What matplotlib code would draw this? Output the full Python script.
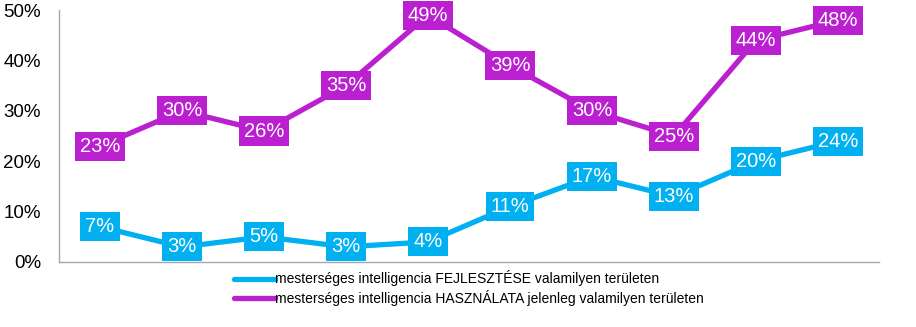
import numpy as np
import matplotlib.pyplot as plt

plt.rcParams['font.family'] = ['Liberation Sans', 'DejaVu Sans']

# values (percent)
fejlesztes = [7, 3, 5, 3, 4, 11, 17, 13, 20, 24]
hasznalat = [23, 30, 26, 35, 49, 39, 30, 25, 44, 48]
series_names = ['mesterséges intelligencia FEJLESZTÉSE valamilyen területen',
                'mesterséges intelligencia HASZNÁLATA jelenleg valamilyen területen']
colors = ['#00B0F0', '#BA1FD0']

x = np.arange(len(fejlesztes))

fig = plt.figure(figsize=(9.16, 3.27), dpi=100)
ax = fig.add_axes([0.0644, 0.1988, 0.8952, 0.7702])

for vals, name, col in zip([fejlesztes, hasznalat], series_names, colors):
    ax.plot(x, vals, color=col, lw=3.8, solid_capstyle='round', label=name)
    for xi, v in zip(x, vals):
        ax.text(xi, v, f'{v}%', ha='center', va='center', color='white', fontsize=14.5,
                bbox=dict(boxstyle='square,pad=0.25', fc=col, ec='none'))

ax.set_xlim(-0.5, len(x) - 0.5)
ax.set_ylim(0, 50)
ax.set_yticks(range(0, 51, 10))
ax.set_yticklabels([f'{t}%' for t in range(0, 51, 10)], fontsize=13.5)
ax.set_xticks([])
ax.tick_params(axis='y', length=0, pad=13)
for s in ['top', 'right']:
    ax.spines[s].set_visible(False)
for s in ['left', 'bottom']:
    ax.spines[s].set_color('#A6A6A6')
    ax.spines[s].set_linewidth(1)

leg = fig.legend(loc='upper left', bbox_to_anchor=(0.249, 0.19), frameon=False,
                 fontsize=10, handlelength=3.0, handletextpad=0.0,
                 labelspacing=0.25, borderaxespad=0)

fig.savefig('out.png', dpi=100)
